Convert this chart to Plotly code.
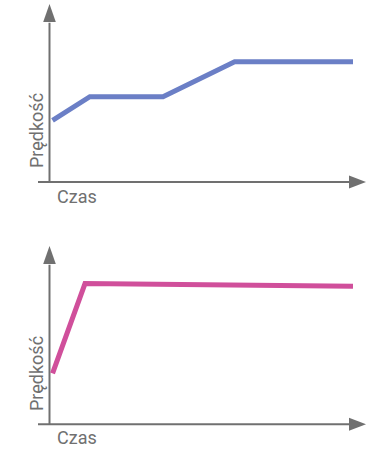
import plotly.graph_objects as go

# ---------------- data (arbitrary units) ----------------
time_top = [0.1, 1.33, 3.74, 6.1, 10.0]
speed_top = [4.1, 5.67, 5.67, 8.0, 8.0]
time_bottom = [0.1, 1.17, 10.0]
speed_bottom = [3.39, 9.36, 9.18]
x_label = "Czas"
y_label = "Prędkość"
line_colors = ["#6b7fc6", "#d04f9b"]
axis_color = "#707070"

# ---------------- layout geometry ----------------
W, H = 378, 449
KX = 30.35          # px per time unit
KY = 15.04          # px per speed unit
X0_PX = 49.5        # pixel x of the time origin
# (top_px, bottom_px, origin_y_px) for each panel
panels = [(0, 225, 182.0), (225, 449, 424.3)]

fig = go.Figure()

xr = [-X0_PX / KX, (W - X0_PX) / KX]

series = [(time_top, speed_top), (time_bottom, speed_bottom)]
shapes = []
annotations = []
for i, ((top_px, bot_px, oy), (tx, sy)) in enumerate(zip(panels, series)):
    n = "" if i == 0 else str(i + 1)
    yr = [-(bot_px - oy) / KY, (oy - top_px) / KY]
    dom = [1 - bot_px / H, 1 - top_px / H]
    fig.update_layout(**{
        f"xaxis{n}": dict(range=xr, domain=[0, 1], visible=False, fixedrange=True,
                          anchor=f"y{n}"),
        f"yaxis{n}": dict(range=yr, domain=dom, visible=False, fixedrange=True,
                          anchor=f"x{n}"),
    })
    fig.add_trace(go.Scatter(
        x=tx, y=sy, mode="lines", xaxis=f"x{n}", yaxis=f"y{n}",
        line=dict(color=line_colors[i], width=5), showlegend=False,
        hoverinfo="skip"))

    xref, yref = f"x{n}", f"y{n}"
    # axis geometry in data units
    x_start = (38 - X0_PX) / KX
    x_base = (349 - X0_PX) / KX
    x_tip = (366 - X0_PX) / KX
    half_h = 6.5 / KY
    y_top_tip = (oy - (top_px + 4 if i == 0 else 246)) / KY
    y_top_base = (oy - (top_px + 22 if i == 0 else 264)) / KY
    half_w = 6.3 / KX
    line_style = dict(color=axis_color, width=2)
    shapes.append(dict(type="line", xref=xref, yref=yref, x0=x_start, x1=x_base + 0.05,
                       y0=0, y1=0, line=line_style, layer="below"))
    shapes.append(dict(type="line", xref=xref, yref=yref, x0=0, x1=0,
                       y0=0, y1=y_top_base - 0.05, line=line_style, layer="below"))
    shapes.append(dict(type="path", xref=xref, yref=yref,
                       path=f"M{x_base},{-half_h} L{x_tip},0 L{x_base},{half_h} Z",
                       fillcolor=axis_color, line=dict(width=0)))
    shapes.append(dict(type="path", xref=xref, yref=yref,
                       path=f"M{-half_w},{y_top_base} L0,{y_top_tip} L{half_w},{y_top_base} Z",
                       fillcolor=axis_color, line=dict(width=0)))

    czas_y = 196 if i == 0 else 437
    annotations.append(dict(text=x_label, xref="paper", yref="paper",
                            x=54.5 / W, y=1 - czas_y / H, xanchor="left", yanchor="middle",
                            showarrow=False))
    pr_y = 130.5 if i == 0 else 373.5
    annotations.append(dict(text=y_label, xref="paper", yref="paper", textangle=-90,
                            x=36.5 / W, y=1 - pr_y / H, xanchor="center", yanchor="middle",
                            showarrow=False))

fig.update_layout(
    width=W, height=H,
    margin=dict(l=0, r=0, t=0, b=0),
    paper_bgcolor="white", plot_bgcolor="white",
    font=dict(family="Roboto", size=18, color=axis_color),
    shapes=shapes, annotations=annotations,
)

fig.write_html("out.html", config={"displayModeBar": False},
               post_script="document.body.style.margin='0';document.body.style.overflow='hidden';")
